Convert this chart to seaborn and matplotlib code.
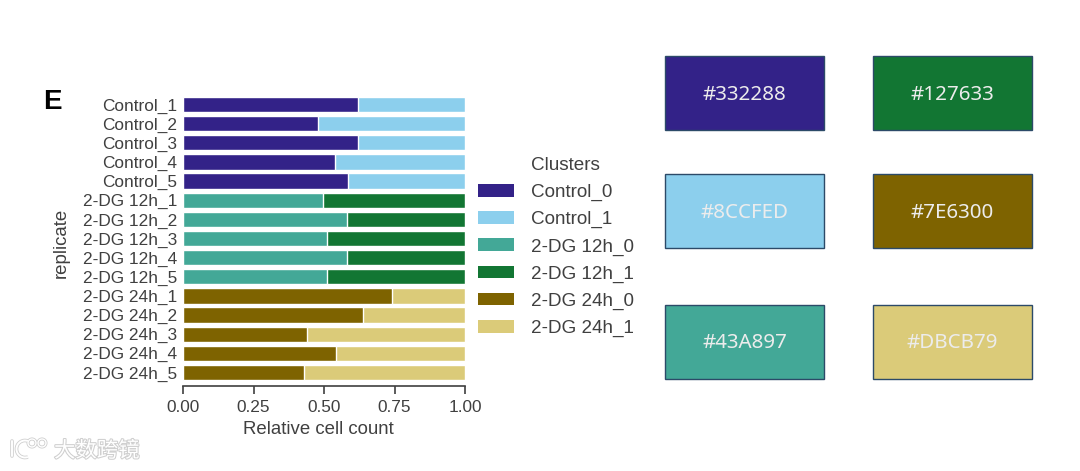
import matplotlib
matplotlib.use("Agg")
import matplotlib.pyplot as plt
import pandas as pd
import seaborn as sns
from matplotlib.patches import Rectangle, Patch, Arc, Circle
from matplotlib.lines import Line2D
import matplotlib.patheffects as pe

replicates = ["Control_1", "Control_2", "Control_3", "Control_4", "Control_5",
              "2-DG 12h_1", "2-DG 12h_2", "2-DG 12h_3", "2-DG 12h_4", "2-DG 12h_5",
              "2-DG 24h_1", "2-DG 24h_2", "2-DG 24h_3", "2-DG 24h_4", "2-DG 24h_5"]
groups = ["Control"] * 5 + ["2-DG 12h"] * 5 + ["2-DG 24h"] * 5
cluster0_share = [0.622, 0.480, 0.622, 0.538, 0.586,
                  0.498, 0.580, 0.510, 0.580, 0.510,
                  0.740, 0.637, 0.439, 0.543, 0.430]
full_bar = [1.0] * 15

clusters = ["Control_0", "Control_1", "2-DG 12h_0", "2-DG 12h_1", "2-DG 24h_0", "2-DG 24h_1"]
cluster_colors = ["#332288", "#8CCFED", "#43A897", "#127633", "#7E6300", "#DBCB79"]

swatch_hex = ["#332288", "#127633", "#8CCFED", "#7E6300", "#43A897", "#DBCB79"]

W, H = 1080, 471
text_col = "#404040"
sns.set_style("white")
plt.rcParams["font.family"] = ["Liberation Sans", "DejaVu Sans"]

# long table: cluster _1 is drawn full width, cluster _0 goes on top
rows = []
for rep, grp, share, total in zip(replicates, groups, cluster0_share, full_bar):
    rows.append({"replicate": rep, "cluster": grp + "_1", "value": total})
    rows.append({"replicate": rep, "cluster": grp + "_0", "value": share})
df = pd.DataFrame(rows)

fig = plt.figure(figsize=(W / 100, H / 100), dpi=100, facecolor="white")
ax = fig.add_axes([183 / W, 1 - 382 / H, (465 - 183) / W, (382 - 95) / H])

hue_order = [c for pair in zip(clusters[1::2], clusters[0::2]) for c in pair]
sns.barplot(data=df, y="replicate", x="value", hue="cluster", order=replicates,
            hue_order=hue_order, palette=dict(zip(clusters, cluster_colors)),
            dodge=False, width=0.8, saturation=1, legend=False, ax=ax)

ax.set_xlim(0, 1)
ax.set_ylim(14.5, -0.5)
ax.set_xticks([0, 0.25, 0.5, 0.75, 1.0])
ax.set_xticklabels(["0.00", "0.25", "0.50", "0.75", "1.00"])
ax.tick_params(axis="x", length=6, width=1.2, color=text_col, labelcolor=text_col,
               labelsize=12.4, pad=4, bottom=True)
ax.tick_params(axis="y", length=0, labelcolor=text_col, labelsize=12.4, pad=4)
sns.despine(ax=ax, left=True, offset={"bottom": 3})
ax.spines["bottom"].set_color(text_col)
ax.spines["bottom"].set_linewidth(1.2)
ax.set_xlabel("Relative cell count", fontsize=13.4, color=text_col, va="center")
ax.set_ylabel("replicate", fontsize=13.4, color=text_col, va="center")
ax.xaxis.set_label_coords(0.48, (382 - 430) / (382 - 95))
ax.yaxis.set_label_coords((61 - 183) / (465 - 183), (382 - 243) / (382 - 95))

# "Clusters" sits in the label column, so it is an entry with a hidden handle
handles = [Line2D([], [], linestyle="none", label="Clusters")]
handles += [Patch(facecolor=c, edgecolor="none", label=l) for c, l in zip(cluster_colors, clusters)]
leg = ax.legend(handles=handles, loc="upper left", frameon=False, borderaxespad=0, borderpad=0,
                bbox_to_anchor=((478 - 183) / (465 - 183), (382 - 157) / (382 - 95)),
                fontsize=13.6, handlelength=1.9, handleheight=0.65,
                handletextpad=0.9, labelspacing=0.53)
for t in leg.get_texts():
    t.set_color(text_col)

# overlay in pixel coordinates for the panel letter, swatches and watermark
over = fig.add_axes([0, 0, 1, 1], zorder=5)
over.set_xlim(0, W)
over.set_ylim(H, 0)
over.axis("off")
over.patch.set_alpha(0)

over.text(43, 102, "E", fontsize=20, fontweight="bold", color="black", va="center", ha="left")

col_x = [665, 873]
row_y = [(56, 130), (174, 248), (305, 379)]
for i, code in enumerate(swatch_hex):
    x0 = col_x[i % 2]
    y0, y1 = row_y[i // 2]
    over.add_patch(Rectangle((x0, y0), 159, y1 - y0, facecolor=code,
                             edgecolor="#2c4a68", linewidth=1))
    over.text(x0 + 79.5, (y0 + y1) / 2 + 1.5, code, color="#ececec", fontsize=14.8,
              ha="center", va="center", fontweight="light",
              family=["Noto Sans", "DejaVu Sans"])

# watermark
halo = [pe.withStroke(linewidth=1.5, foreground="#cfcfcf")]
wm = over.text(54, 451, "大数跨镜", fontsize=15.4, color="white", ha="left", va="center",
               family=["Noto Sans CJK SC", "DejaVu Sans"])
wm.set_path_effects(halo)
for col, lw in [("#cfcfcf", 2.6), ("white", 1.4)]:
    over.add_line(Line2D([12, 12], [441, 456], color=col, linewidth=lw))
    over.add_patch(Arc((25, 449), 17, 17, theta1=70, theta2=290, edgecolor=col, linewidth=lw))
    over.add_patch(Circle((32, 443), 4, facecolor="none", edgecolor=col, linewidth=lw - 0.4))
    over.add_patch(Circle((42, 443), 4, facecolor="none", edgecolor=col, linewidth=lw - 0.4))

fig.savefig("out.png", dpi=100, facecolor="white")
